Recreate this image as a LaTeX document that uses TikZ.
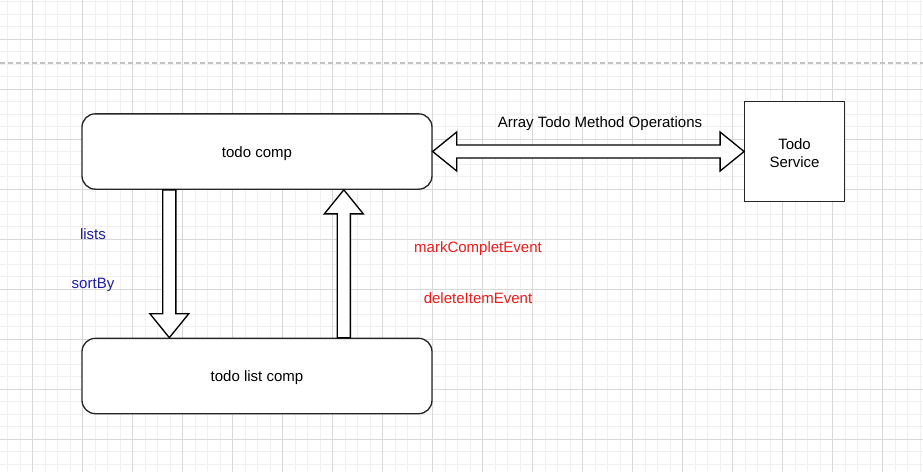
\documentclass[tikz,border=0pt]{standalone}
\usepackage{fontspec}
\setmainfont{Liberation Sans}
\usepackage{xcolor}
\usepackage{tikz}
\usetikzlibrary{calc,positioning}
\definecolor{gridminor}{RGB}{240,240,240}
\definecolor{gridmajor}{RGB}{216,216,216}
\definecolor{dashgray}{RGB}{195,195,195}
\definecolor{inblue}{RGB}{28,28,168}
\definecolor{evred}{RGB}{232,28,28}
\tikzstyle{comp} = [rectangle, rounded corners=10pt, draw=black!85, line width=1pt, fill=white, minimum width=262.5pt, minimum height=56.5pt, text height=11pt, text depth=2.4pt, text centered]
\tikzstyle{service} = [rectangle, draw=black!85, line width=1pt, fill=white, minimum width=74.6pt, minimum height=74.6pt]
\tikzstyle{blockline} = [draw=black, line width=1pt, fill=white, line join=miter]
% single headed block arrow
\newcommand{\blockarrow}[2]{%
  \path (#1) coordinate (ba-s) (#2) coordinate (ba-t);
  \path ($(ba-t)!18pt!(ba-s)$) coordinate (ba-h);
  \draw[blockline] ($(ba-s)!4.9pt!90:(ba-t)$) -- ($(ba-h)!4.9pt!90:(ba-t)$) -- ($(ba-h)!14.6pt!90:(ba-t)$) -- (ba-t)
    -- ($(ba-h)!14.6pt!-90:(ba-t)$) -- ($(ba-h)!4.9pt!-90:(ba-t)$) -- ($(ba-s)!4.9pt!-90:(ba-t)$) -- cycle;}
% double headed block arrow
\newcommand{\dblockarrow}[2]{%
  \path (#1) coordinate (ba-s) (#2) coordinate (ba-t);
  \path ($(ba-s)!18pt!(ba-t)$) coordinate (ba-g) ($(ba-t)!18pt!(ba-s)$) coordinate (ba-h);
  \draw[blockline] (ba-s) -- ($(ba-g)!14.6pt!90:(ba-t)$) -- ($(ba-g)!4.9pt!90:(ba-t)$) -- ($(ba-h)!4.9pt!90:(ba-t)$)
    -- ($(ba-h)!14.6pt!90:(ba-t)$) -- (ba-t) -- ($(ba-h)!14.6pt!-90:(ba-t)$) -- ($(ba-h)!4.9pt!-90:(ba-t)$)
    -- ($(ba-g)!4.9pt!-90:(ba-t)$) -- ($(ba-g)!14.6pt!-90:(ba-t)$) -- cycle;}
\begin{document}
\begin{tikzpicture}[x=0.75pt, y=-0.75pt, font=\fontsize{11.25pt}{13.5pt}\selectfont]
		\useasboundingbox (0,0) rectangle (923,472);
		\coordinate (todo) at (257,151.5);
		\coordinate (list) at (257,376);
		\coordinate (service) at (794.5,151.5);
		% Grid
		\fill[white] (0,0) rectangle (923,472);
		\foreach \gx in {-2,...,71} \draw[gridminor, line width=0.75pt] ({32.7+12.5*\gx},0) -- ({32.7+12.5*\gx},472);
		\foreach \gy in {-3,...,35} \draw[gridminor, line width=0.75pt] (0,{39+12.5*\gy}) -- (923,{39+12.5*\gy});
		\foreach \gx in {0,...,18} \draw[gridmajor, line width=0.75pt] ({32.7+50*\gx},0) -- ({32.7+50*\gx},472);
		\foreach \gy in {0,...,9} \draw[gridmajor, line width=0.75pt] (0,{39+50*\gy}) -- (923,{39+50*\gy});
		% Divider
		\draw[dashgray, line width=0.9pt, dash pattern=on 3.75pt off 2.25pt] (0,63) -- (923,63);
		% Components
		\begin{scope}[every node/.style={comp}]
		\node[name=todo] at (todo) {todo comp};
		\node[name=list] at (list) {todo list comp};
		\end{scope}
		\node[service, name=service, label={[name=servtext, align=center, yshift=-1.5pt]center:Todo\\Service}] at (service) {};
		% Block arrows
		\blockarrow{$(todo.south west)+(88,0)$}{$(list.north west)+(88,0)$}
		\blockarrow{$(list.north west)+(262.5,0)$}{$(todo.south west)+(262.5,0)$}
		\dblockarrow{todo.east}{service.west}
		% Labels
		\node[name=ops] at (600,123.5) {Array Todo Method Operations};
		\begin{scope}[every node/.style={text=inblue}]
		\node[name=lists] at (93,234) {lists};
		\node[name=sortby] at (93,285) {sortBy};
		\end{scope}
		\begin{scope}[every node/.style={text=evred}]
		\node[name=markev] at (478,248.5) {markCompletEvent};
		\node[name=delev] at (478,298.5) {deleteItemEvent};
		\end{scope}
\end{tikzpicture}
\end{document}
